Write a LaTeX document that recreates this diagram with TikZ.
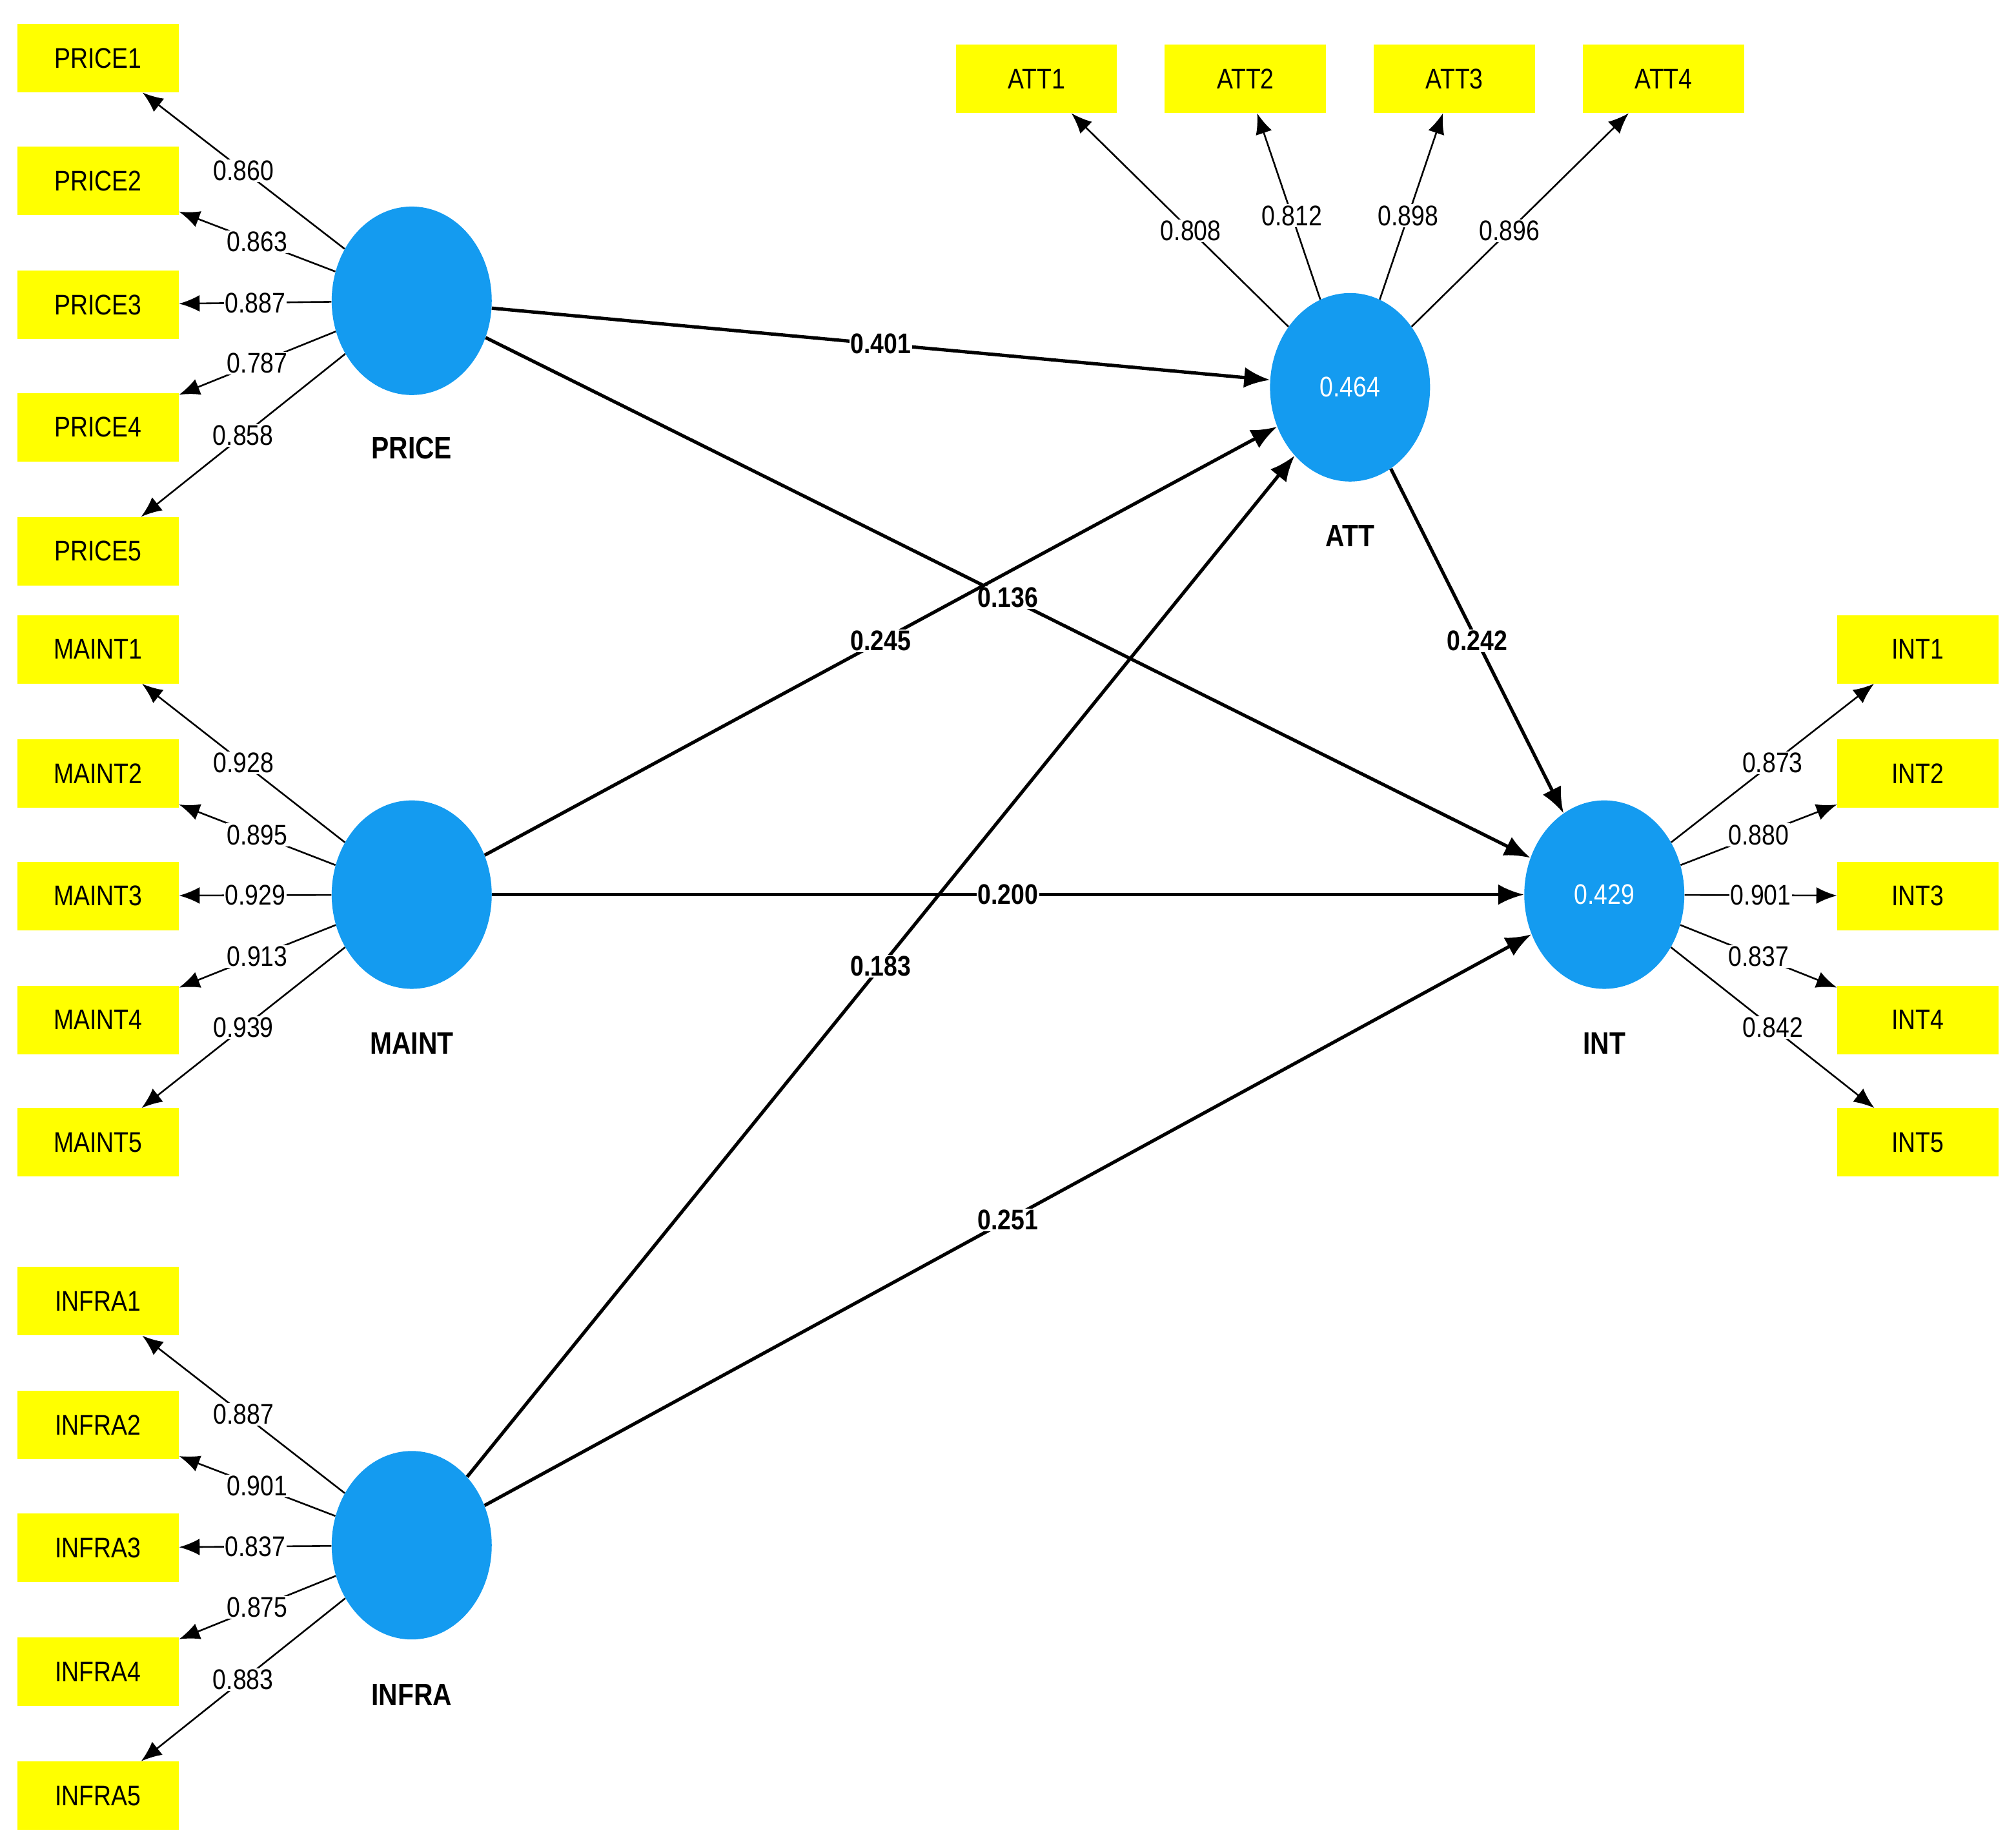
\documentclass[tikz,border=0pt]{standalone}
\usepackage{fontspec}
\setmainfont{Liberation Sans}[FakeStretch=0.85]
\usetikzlibrary{arrows.meta,shapes.geometric}
\definecolor{lvblue}{RGB}{20,155,240}
\definecolor{ind}{RGB}{255,255,0}
\begin{document}
\begin{tikzpicture}[x=1pt,y=-1pt,
  box/.style={fill=ind,minimum width=125pt,minimum height=53pt,inner sep=0pt,font=\fontsize{22}{24}\selectfont},
  lv/.style={ellipse,fill=lvblue,minimum width=124pt,minimum height=146pt,inner sep=0pt,text=white,font=\fontsize{22}{24}\selectfont},
  lvlab/.style={font=\bfseries\fontsize{24}{26}\selectfont},
  load/.style={line width=1.3pt,-{Latex[length=16pt,width=13pt]}},
  pth/.style={line width=2.6pt,-{Latex[length=20pt,width=16pt]}},
  ll/.style={fill=white,inner sep=1pt,font=\fontsize{22}{24}\selectfont},
  pl/.style={fill=white,inner sep=1pt,font=\bfseries\fontsize{22}{24}\selectfont}]
\useasboundingbox (0,0) rectangle (1562,1428);
% latent variables
\node[lv] (PRICE) at (319,233) {};
\node[lv] (MAINT) at (319,693) {};
\node[lv] (INFRA) at (319,1197) {};
\node[lv] (ATT) at (1046,300) {0.464};
\node[lv] (INT) at (1243,693) {0.429};
\node[lvlab] (lPRICE) at (319,347) {PRICE};
\node[lvlab] (lMAINT) at (319,808) {MAINT};
\node[lvlab] (lINFRA) at (319,1313) {INFRA};
\node[lvlab] (lATT) at (1046,415) {ATT};
\node[lvlab] (lINT) at (1243,808) {INT};
% indicators
\foreach \n/\y in {1/45,2/140,3/236,4/331,5/427}{\node[box] (P\n) at (76,\y) {PRICE\n};}
\foreach \n/\y in {1/503,2/599,3/694,4/790,5/885}{\node[box] (M\n) at (76,\y) {MAINT\n};}
\foreach \n/\y in {1/1008,2/1104,3/1199,4/1295,5/1391}{\node[box] (F\n) at (76,\y) {INFRA\n};}
\foreach \n/\x in {1/803,2/965,3/1127,4/1289}{\node[box] (A\n) at (\x,61) {ATT\n};}
\foreach \n/\y in {1/503,2/599,3/694,4/790,5/885}{\node[box] (I\n) at (1486,\y) {INT\n};}
% loadings
\foreach \n/\v in {1/0.860,2/0.863,3/0.887,4/0.787,5/0.858}{\draw[load] (PRICE) -- node[ll]{\v} (P\n);}
\foreach \n/\v in {1/0.928,2/0.895,3/0.929,4/0.913,5/0.939}{\draw[load] (MAINT) -- node[ll]{\v} (M\n);}
\foreach \n/\v in {1/0.887,2/0.901,3/0.837,4/0.875,5/0.883}{\draw[load] (INFRA) -- node[ll]{\v} (F\n);}
\foreach \n/\v in {1/0.808,2/0.812,3/0.898,4/0.896}{\draw[load] (ATT) -- node[ll,pos=0.45]{\v} (A\n);}
\foreach \n/\v in {1/0.873,2/0.880,3/0.901,4/0.837,5/0.842}{\draw[load] (INT) -- node[ll]{\v} (I\n);}
% structural paths
\draw[pth] (PRICE) -- node[pl]{0.401} (ATT);
\draw[pth] (PRICE) -- node[pl]{0.136} (INT);
\draw[pth] (MAINT) -- node[pl]{0.245} (ATT);
\draw[pth] (MAINT) -- node[pl]{0.200} (INT);
\draw[pth] (INFRA) -- node[pl]{0.183} (ATT);
\draw[pth] (INFRA) -- node[pl]{0.251} (INT);
\draw[pth] (ATT) -- node[pl]{0.242} (INT);
\end{tikzpicture}
\end{document}
